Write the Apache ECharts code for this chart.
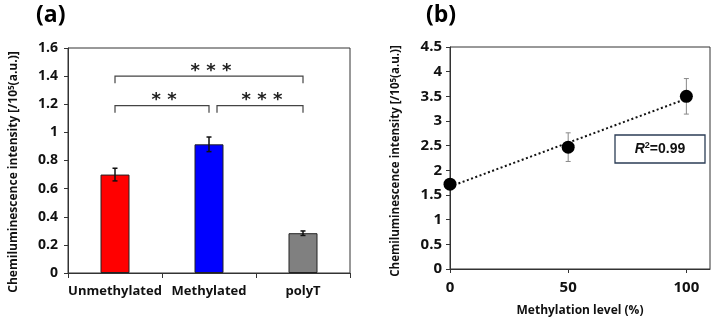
<!DOCTYPE html>
<html>
<head>
<meta charset="utf-8">
<script src="https://cdn.jsdelivr.net/npm/echarts@6/dist/echarts.min.js"></script>
<style>
  html, body { margin: 0; padding: 0; background: #fff; }
  #chart { width: 717px; height: 325px; }
</style>
</head>
<body>
<div id="chart"></div>
<script>
  // panel (a) bar data
  const groups = ['Unmethylated', 'Methylated', 'polyT'];
  const intensity = [0.70, 0.915, 0.283];
  const intensityErr = [0.045, 0.052, 0.016];
  const barColors = ['#ff0000', '#0000ff', '#808080'];
  // significance brackets: [from, to, level, stars]
  const brackets = [
    [0, 2, 1.40, '* * *'],
    [0, 1, 1.19, '* *'],
    [1, 2, 1.19, '* * *']
  ];

  // panel (b) methylation series
  const methylLevel = [0, 50, 100];
  const methylIntensity = [1.72, 2.47, 3.50];
  const methylErr = [0, 0.29, 0.36];
  const trendX = [0, 100];
  const trendY = [1.67, 3.45];

  const font = 'Open Sans';
  const chart = echarts.init(document.getElementById('chart'));

  const errorBars = (color, cap, width) => (params, api) => {
    const x = api.value(0);
    const y = api.value(1);
    const e = api.value(2);
    if (!e) return;
    const hi = api.coord([x, y + e]);
    const lo = api.coord([x, y - e]);
    const st = { stroke: color, lineWidth: width };
    return {
      type: 'group',
      children: [
        { type: 'line', shape: { x1: hi[0], y1: hi[1], x2: lo[0], y2: lo[1] }, style: st },
        { type: 'line', shape: { x1: hi[0] - cap, y1: hi[1], x2: hi[0] + cap, y2: hi[1] }, style: st },
        { type: 'line', shape: { x1: lo[0] - cap, y1: lo[1], x2: lo[0] + cap, y2: lo[1] }, style: st }
      ]
    };
  };

  const bracketItem = (params, api) => {
    const a = api.value(0), b = api.value(1), lvl = api.value(2);
    const p0 = api.coord([a, lvl]);
    const p1 = api.coord([b, lvl]);
    const x0 = p0[0] + (a === 1 ? 8 : 0);
    const x1 = p1[0];
    const y = p0[1];
    const st = { stroke: '#444', lineWidth: 1.2, fill: null };
    return {
      type: 'group',
      children: [
        { type: 'polyline', shape: { points: [[x0, y + 7], [x0, y], [x1, y], [x1, y + 7]] }, style: st },
        { type: 'text', x: (x0 + x1) / 2 + 2, y: y - 5,
          style: { text: brackets[params.dataIndex][3], fontSize: 18, fontFamily: 'DejaVu Sans',
                   fontWeight: 'bold', fill: '#222', align: 'center', verticalAlign: 'middle' } }
      ]
    };
  };

  const axisCommon = {
    axisLine: { show: true, lineStyle: { color: '#333', width: 1 } },
    axisTick: { show: true, length: 4, lineStyle: { color: '#333' } },
    splitLine: { show: false }
  };

  chart.setOption({
    animation: false,
    grid: [
      { left: 68, top: 48, width: 282, height: 225, show: true, borderColor: '#333', borderWidth: 1 },
      { left: 450, top: 47, width: 260, height: 222, show: true, borderColor: '#333', borderWidth: 1 }
    ],
    xAxis: [
      Object.assign({}, axisCommon, {
        gridIndex: 0, type: 'category', data: groups,
        axisTick: { show: true, length: 5, alignWithLabel: false, lineStyle: { color: '#333' } },
        axisLabel: { interval: 0, fontFamily: font, fontWeight: 'bold', fontSize: 13, color: '#111', margin: 12 }
      }),
      Object.assign({}, axisCommon, {
        gridIndex: 1, type: 'value', min: 0, max: 110, interval: 50,
        axisLabel: { fontFamily: font, fontWeight: 'bold', fontSize: 15, color: '#111', margin: 11,
                     showMaxLabel: false }
      })
    ],
    yAxis: [
      Object.assign({}, axisCommon, {
        gridIndex: 0, type: 'value', min: 0, max: 1.6, interval: 0.2,
        axisLabel: { fontFamily: font, fontWeight: 'bold', fontSize: 14, color: '#111', margin: 10 }
      }),
      Object.assign({}, axisCommon, {
        gridIndex: 1, type: 'value', min: 0, max: 4.5, interval: 0.5,
        axisLabel: { fontFamily: font, fontWeight: 'bold', fontSize: 15, color: '#111', margin: 8 }
      })
    ],
    series: [
      {
        type: 'bar', xAxisIndex: 0, yAxisIndex: 0, barWidth: 29,
        data: intensity.map((v, i) => ({ value: v, itemStyle: { color: barColors[i] } })),
        itemStyle: { borderColor: '#222', borderWidth: 1 }
      },
      {
        type: 'custom', xAxisIndex: 0, yAxisIndex: 0, z: 5,
        renderItem: errorBars('#111', 2.5, 1.5),
        data: intensity.map((v, i) => [i, v, intensityErr[i]])
      },
      {
        type: 'custom', xAxisIndex: 0, yAxisIndex: 0, z: 5,
        renderItem: bracketItem,
        data: brackets.map(b => [b[0], b[1], b[2]])
      },
      {
        type: 'line', xAxisIndex: 1, yAxisIndex: 1, symbol: 'none', z: 2,
        lineStyle: { color: '#111', width: 2, type: [2, 2.5] },
        data: trendX.map((x, i) => [x, trendY[i]])
      },
      {
        type: 'custom', xAxisIndex: 1, yAxisIndex: 1, z: 3,
        renderItem: errorBars('#888', 2.5, 1),
        data: methylLevel.map((x, i) => [x, methylIntensity[i], methylErr[i]])
      },
      {
        type: 'scatter', xAxisIndex: 1, yAxisIndex: 1, symbolSize: 13, z: 4,
        itemStyle: { color: '#000', opacity: 1 },
        data: methylLevel.map((x, i) => [x, methylIntensity[i]])
      }
    ],
    graphic: [
      { type: 'text', left: 36, top: 4,
        style: { text: '(a)', fontFamily: font, fontWeight: 'bold', fontSize: 23, fill: '#000' } },
      { type: 'text', left: 426, top: 4,
        style: { text: '(b)', fontFamily: font, fontWeight: 'bold', fontSize: 23, fill: '#000' } },
      { type: 'text', x: 14, y: 172, rotation: Math.PI / 2,
        style: { text: 'Chemiluminescence intensity [/10{s|5}(a.u.)]', fontFamily: font, fontWeight: 'bold',
                 fontSize: 12, fill: '#111', align: 'center', verticalAlign: 'middle',
                 rich: { s: { fontFamily: font, fontWeight: 'bold', fontSize: 8, fill: '#111', padding: [0, 0, 5, 0] } } } },
      { type: 'text', x: 396, y: 161, rotation: Math.PI / 2,
        style: { text: 'Chemiluminescence intensity [/10{s|5}(a.u.)]', fontFamily: font, fontWeight: 'bold',
                 fontSize: 11.5, fill: '#111', align: 'center', verticalAlign: 'middle',
                 rich: { s: { fontFamily: font, fontWeight: 'bold', fontSize: 8, fill: '#111', padding: [0, 0, 5, 0] } } } },
      { type: 'text', x: 580, y: 311,
        style: { text: 'Methylation level (%)', fontFamily: font, fontWeight: 'bold',
                 fontSize: 12, fill: '#111', align: 'center', verticalAlign: 'middle' } },
      { type: 'rect', shape: { x: 615, y: 135, width: 90, height: 28 },
        style: { fill: '#fff', stroke: '#2b3d55', lineWidth: 1.3 } },
      { type: 'text', x: 660, y: 149,
        style: { text: '{i|R}{s|2}{n|=0.99}', align: 'center', verticalAlign: 'middle',
                 rich: {
                   i: { fontFamily: 'Liberation Sans', fontStyle: 'italic', fontWeight: 'bold', fontSize: 14, fill: '#111' },
                   s: { fontFamily: 'Liberation Sans', fontWeight: 'bold', fontSize: 9, fill: '#111', padding: [0, 0, 6, 0] },
                   n: { fontFamily: 'Liberation Sans', fontWeight: 'bold', fontSize: 14, fill: '#111' }
                 } } }
    ]
  });
</script>
</body>
</html>
